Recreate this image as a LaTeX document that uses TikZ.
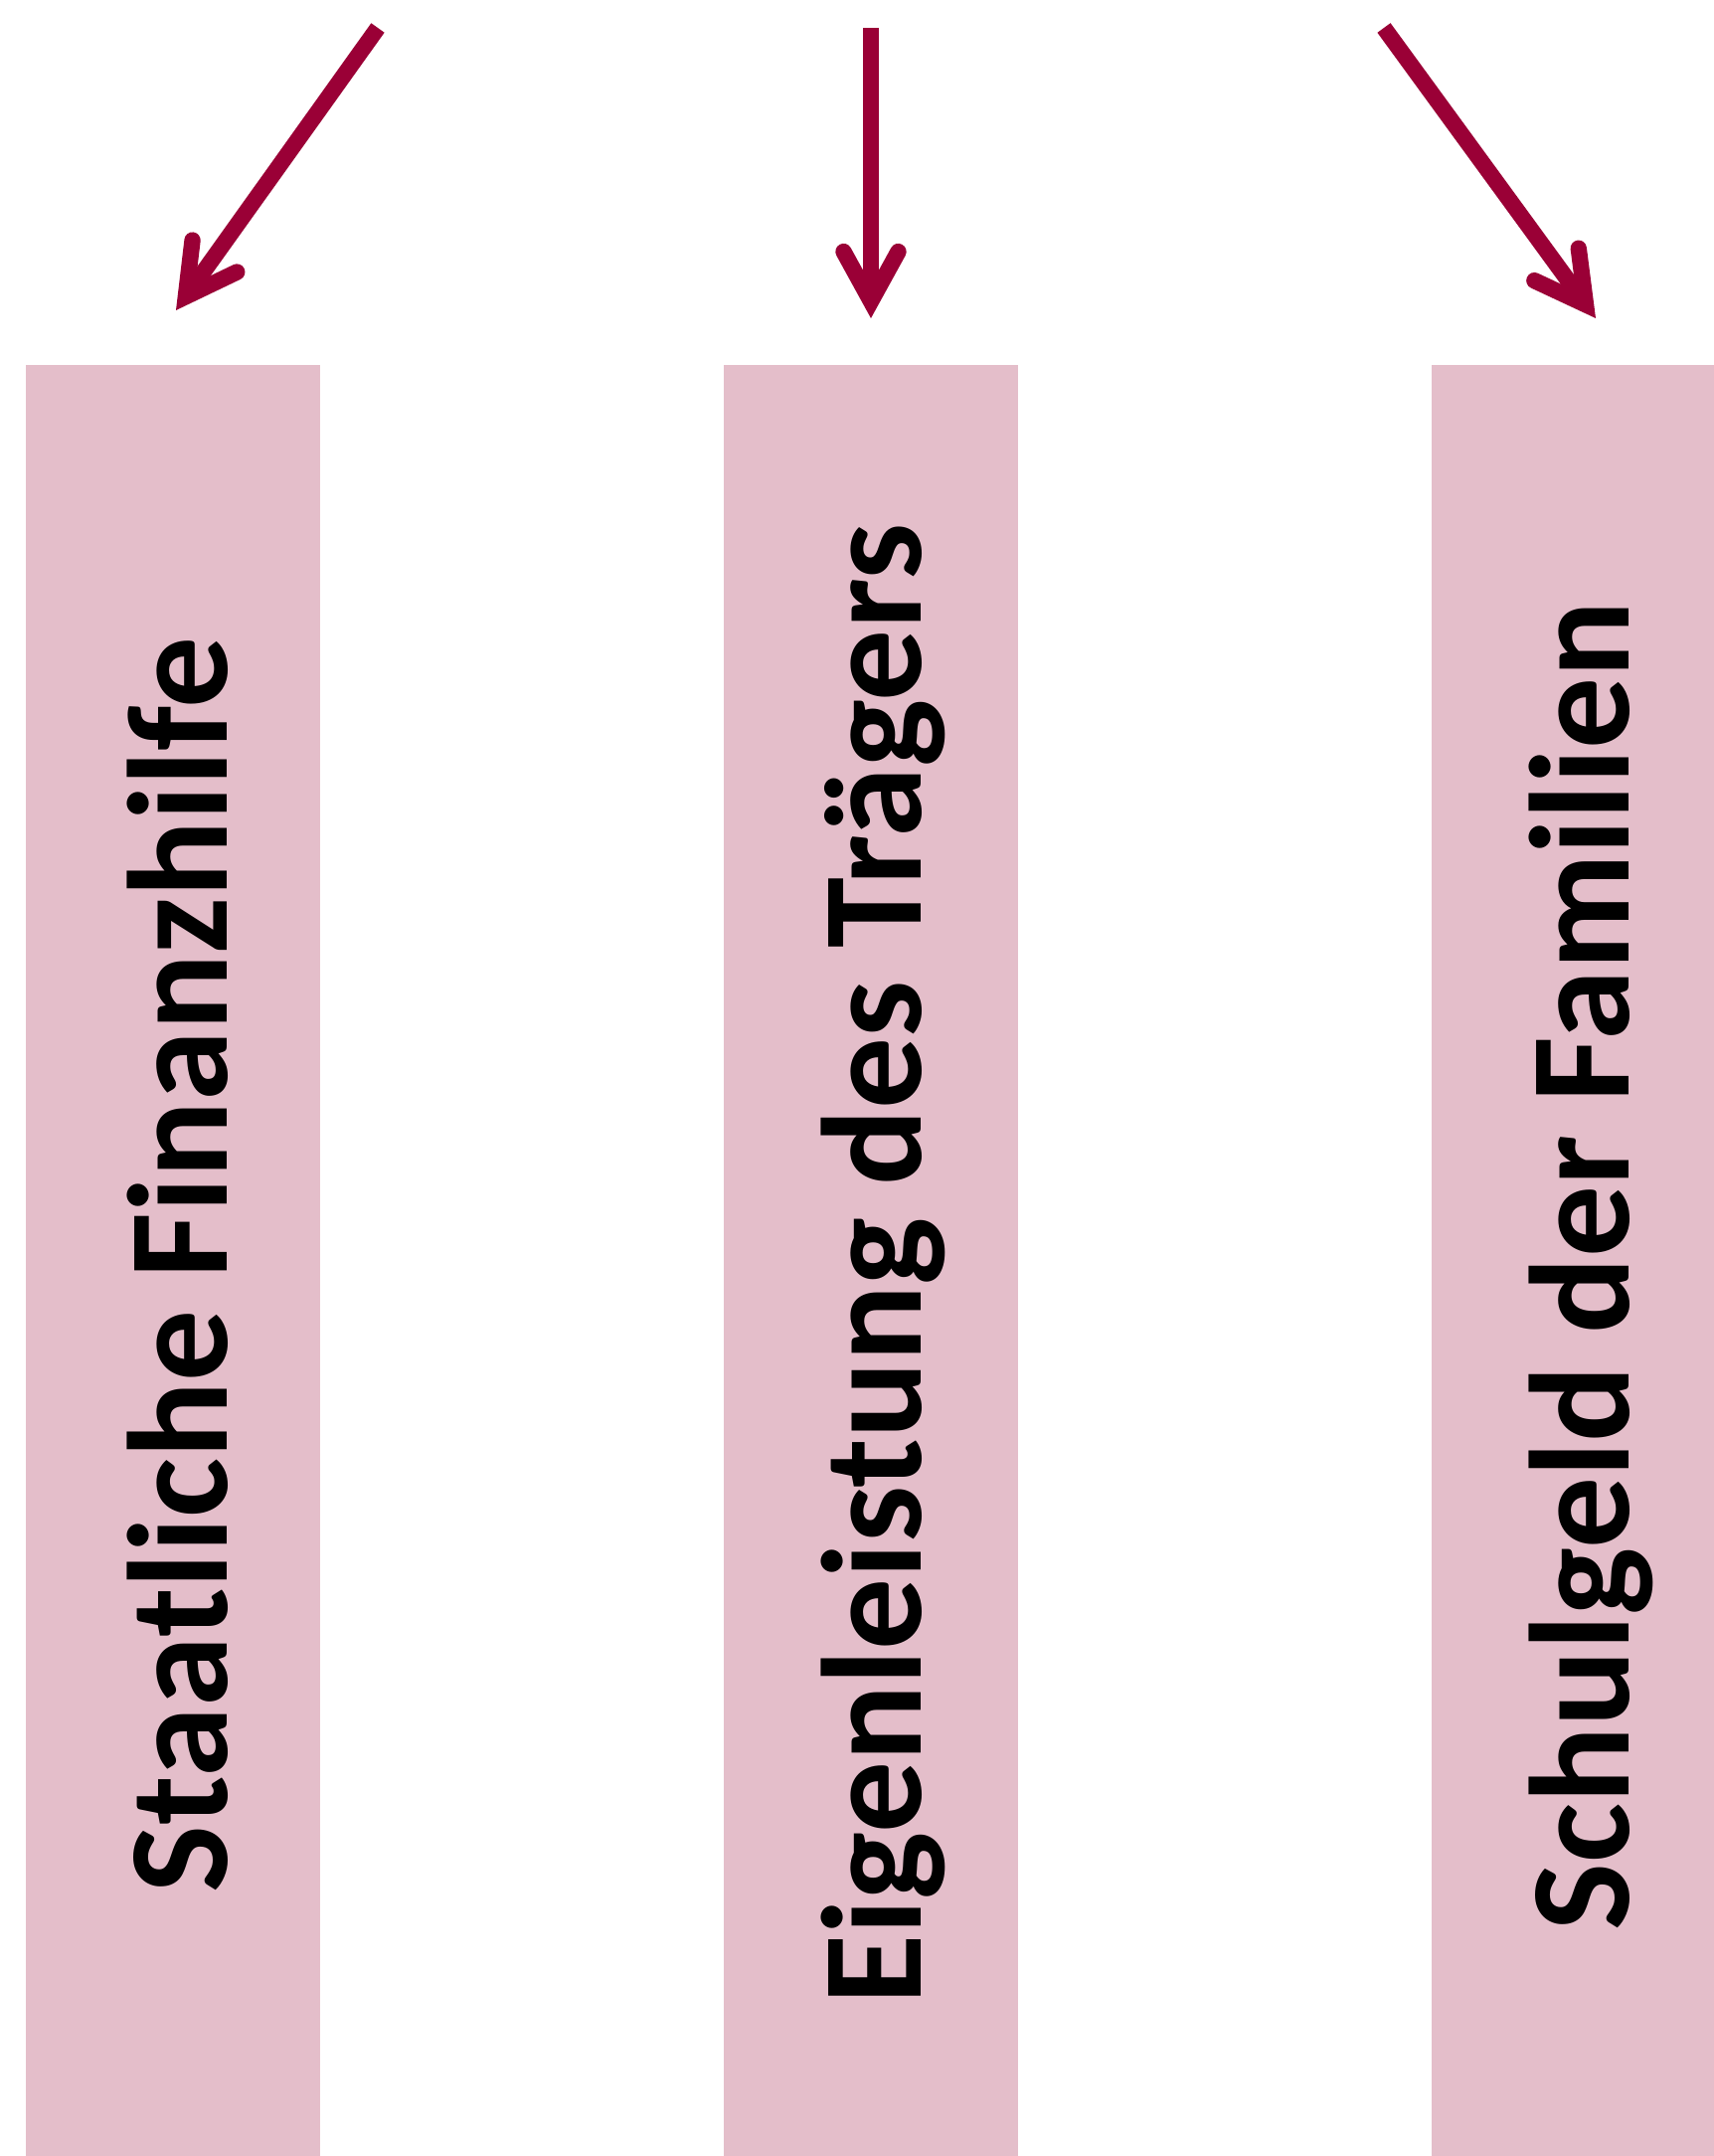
\documentclass[tikz,border=0pt]{standalone}
\usepackage{fontspec}
\setmainfont{Carlito}
\usetikzlibrary{arrows.meta}
\definecolor{barpink}{HTML}{E4BECA}
\definecolor{arrowred}{HTML}{9A0036}
\begin{document}
\begin{tikzpicture}[x=0.3pt,y=-0.3pt,
  bar/.style={fill=barpink,draw=none,inner sep=0pt,minimum width=88.8pt,minimum height=600pt,anchor=north},
  lbl/.style={rotate=90,anchor=base,inner sep=0pt,font=\fontsize{43}{50}\selectfont\bfseries,text=black},
  flow/.style={draw=arrowred,line width=4.9pt,
    -{Straight Barb[length=15pt,width=16.5pt,line cap=round,line join=miter]}}]
\useasboundingbox (0,0) rectangle (1724,2168);
\clip (0,0) rectangle (1724,2168);
\fill[white] (0,0) rectangle (1724,2168);
\node[bar] (b1) at (174,366) {};
\node[bar] (b2) at (876,366) {};
\node[bar] (b3) at (1588,366) {};
\node[lbl] (t1) at (228,1272) {Staatliche Finanzhilfe};
\node[lbl] (t2) at (926,1271) {Eigenleistung des Trägers};
\node[lbl] (t3) at (1638,1273) {Schulgeld der Familien};
\coordinate (s1) at (380,28);
\coordinate (e1) at (177,312);
\coordinate (s2) at (876,28);
\coordinate (e2) at (876,320);
\coordinate (s3) at (1392,28);
\coordinate (e3) at (1605,320);
\draw[flow] (s1) -- (e1);
\draw[flow] (s2) -- (e2);
\draw[flow] (s3) -- (e3);
\end{tikzpicture}
\end{document}
